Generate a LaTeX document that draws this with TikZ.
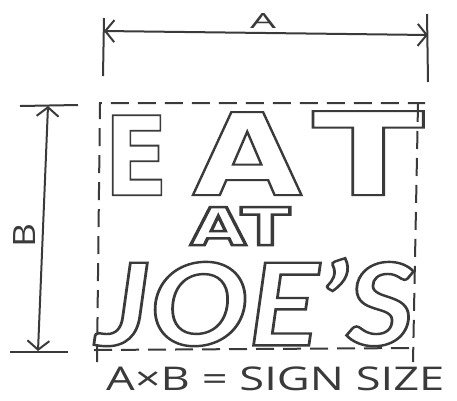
\documentclass[tikz,border=0pt]{standalone}
\usepackage{fontspec}
\setmainfont{Open Sans}
\newfontfamily\blk{DejaVu Sans}
\newfontfamily\blkit{Lato}
\usetikzlibrary{arrows.meta}
\definecolor{ink}{HTML}{3A3A3A}
\newcommand\outl[1]{\special{pdf:literal direct 1 Tr 1.9 w}#1\special{pdf:literal direct 0 Tr}}
\tikzset{
  dimline/.style={ink, line width=2pt, {Straight Barb[length=9pt,width=22pt]}-{Straight Barb[length=9pt,width=22pt]}},
  extline/.style={ink, line width=2pt},
  dashbox/.style={ink, line width=2pt, dash pattern=on 18pt off 9pt},
  lettering/.style={inner sep=0pt, anchor=north west, text=ink},
  dimlabel/.style={inner sep=0pt, text=ink}
}
\begin{document}
\begin{tikzpicture}[x=1pt,y=-1pt]
\useasboundingbox (0,0) rectangle (457,400);
% A dimension
\coordinate (a1) at (103,76);
\coordinate (a1t) at (104,18);
\coordinate (a2) at (428,82);
\coordinate (a2t) at (427,14);
\coordinate (al) at (104,31);
\coordinate (ar) at (428,35);
\draw[extline] (a1) -- (a1t);
\draw[extline] (a2) -- (a2t);
\draw[dimline] (al) -- (ar);
\node[dimlabel] (labA) at (263,21) {\resizebox*{26pt}{15pt}{A}};
% B dimension
\coordinate (b1) at (20,106);
\coordinate (b1r) at (78,105);
\coordinate (b2) at (10,352);
\coordinate (b2r) at (68,352);
\coordinate (bt) at (48,106);
\coordinate (bb) at (38,351);
\draw[extline] (b1) -- (b1r);
\draw[extline] (b2) -- (b2r);
\draw[dimline] (bt) -- (bb);
\node[dimlabel, rotate=90] (labB) at (24,235) {\resizebox*{24pt}{22pt}{B}};
% dashed sign outline
\coordinate (s1) at (97,362);
\coordinate (s2) at (100,103);
\coordinate (s3) at (425,103);
\coordinate (s4) at (418,104);
\coordinate (s5) at (413,362);
\coordinate (s6) at (94,350);
\coordinate (s7) at (416,348);
\draw[dashbox] (s1) -- (s2) -- (s3);
\draw[dashbox] (s4) -- (s5);
\draw[dashbox] (s6) -- (s7);
% lettering
\node[lettering] (eat) at (104,111) {\blk\bfseries\fontsize{110}{110}\selectfont
  \resizebox*{64pt}{80pt}{\outl{E}}\kern24pt\resizebox*{110pt}{83pt}{\outl{A}}\kern10pt\resizebox*{112pt}{84pt}{\outl{T}}};
\node[lettering] (at) at (190,207) {\blk\bfseries\fontsize{40}{40}\selectfont
  \resizebox*{100pt}{38pt}{\outl{AT}}};
\node[lettering] (joes) at (96,258) {\blkit\bfseries\itshape\fontsize{90}{90}\selectfont
  \resizebox*{318pt}{88pt}{\outl{JOE’S}}};
% caption
\node[lettering] (cap) at (106,367) {\fontsize{34}{34}\selectfont
  \resizebox*{338pt}{24pt}{A×B = SIGN SIZE}};
\end{tikzpicture}
\end{document}
